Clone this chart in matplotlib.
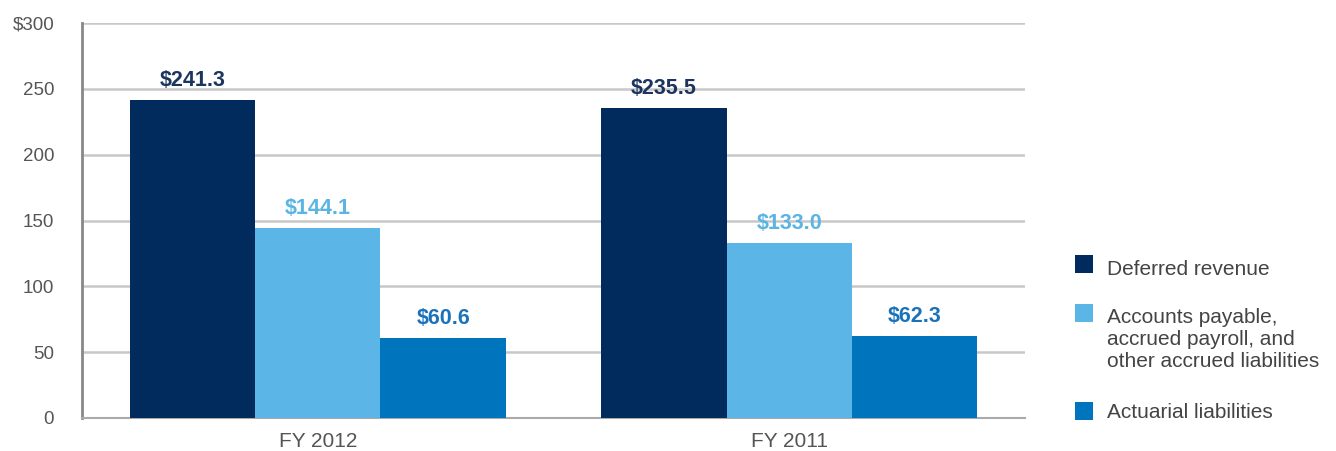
import matplotlib
matplotlib.use("Agg")
import matplotlib.pyplot as plt
from matplotlib.patches import Rectangle
import numpy as np

plt.rcParams['font.family'] = ['Liberation Sans', 'DejaVu Sans']

groups = ["FY 2012", "FY 2011"]
series = ["Deferred revenue",
          "Accounts payable,\naccrued payroll, and\nother accrued liabilities",
          "Actuarial liabilities"]
values = [[241.3, 235.5],
          [144.1, 133.0],
          [60.6, 62.3]]
labels = [["$241.3", "$235.5"], ["$144.1", "$133.0"], ["$60.6", "$62.3"]]
colors = ["#002b5c", "#5bb5e6", "#0075be"]
label_colors = ["#1c355e", "#5ab4e4", "#1a72bb"]
yticks = [0, 50, 100, 150, 200, 250, 300]
ytick_labels = ["0", "50", "100", "150", "200", "250", "$300"]

W, H = 1336, 451
fig = plt.figure(figsize=(W/100, H/100), dpi=100)
ax = fig.add_axes([82/W, 33/H, (1025-82)/W, (418-23)/H])

x = np.arange(len(groups))
w = 0.266
for i, (vals, c) in enumerate(zip(values, colors)):
    pos = x + (i - 1) * w
    ax.bar(pos, vals, width=w, color=c, zorder=3)
    for p, v, t in zip(pos, vals, labels[i]):
        ax.annotate(t, (p, v), xytext=(0, 14), textcoords="offset pixels",
                    ha="center", va="baseline", fontsize=15.5,
                    fontweight="bold", color=label_colors[i], zorder=4)

ax.set_xlim(-0.5, 1.5)
ax.set_ylim(0, 300)
ax.set_yticks(yticks)
ax.set_yticklabels(ytick_labels)
ax.set_xticks(x)
ax.set_xticklabels(groups)
ax.tick_params(axis="both", length=0, colors="#555555")
ax.tick_params(axis="x", labelsize=15, pad=10)
ax.tick_params(axis="y", labelsize=13.5, pad=20)
ax.grid(axis="y", color="#c8c8c8", linewidth=1.8, zorder=0)
for s in ["top", "right"]:
    ax.spines[s].set_visible(False)
ax.spines["left"].set_color("#888888")
ax.spines["left"].set_linewidth(2)
ax.spines["bottom"].set_color("#aaaaaa")
ax.spines["bottom"].set_linewidth(1.5)

# legend (manual layout, pixel positions of first-line baselines)
sq = 18
square_centers = [264, 313, 411]
first_baselines = [275, 323, 418]
line_step = 22
for name, c, cy, bl in zip(series, colors, square_centers, first_baselines):
    fig.patches.append(Rectangle((1075/W, (H - cy - sq/2)/H), sq/W, sq/H,
                                 transform=fig.transFigure, facecolor=c,
                                 edgecolor="none"))
    for k, line in enumerate(name.split("\n")):
        fig.text(1107/W, (H - bl - k*line_step)/H, line, ha="left",
                 va="baseline", fontsize=15, color="#444444")

fig.savefig("out.png", dpi=100, facecolor="white")
